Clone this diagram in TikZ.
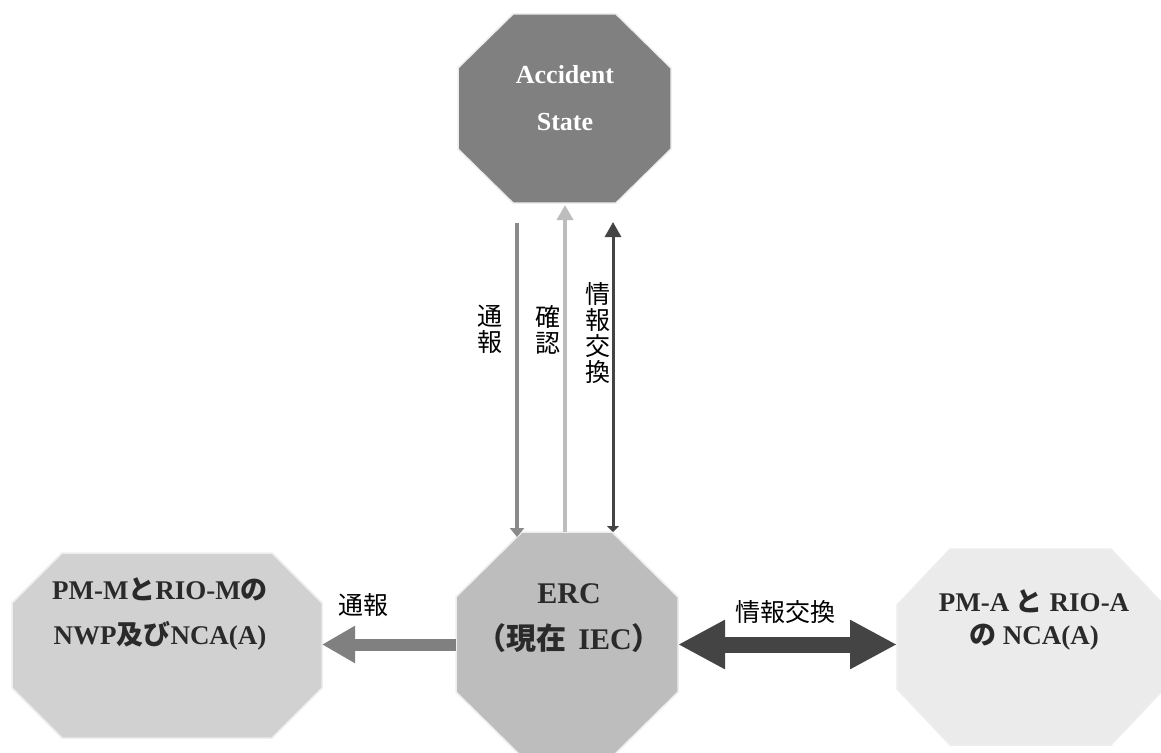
\documentclass[tikz,border=0pt]{standalone}
\usepackage{fontspec}
\setmainfont{Liberation Serif}
\newfontfamily\jp{Noto Sans CJK JP}
\usetikzlibrary{arrows.meta,calc}
\definecolor{cAcc}{HTML}{808080}
\definecolor{cErc}{HTML}{BDBDBD}
\definecolor{cLft}{HTML}{D1D1D1}
\definecolor{cRgt}{HTML}{EBEBEB}
\definecolor{cTxt}{HTML}{2A2A2A}
\definecolor{cTsu}{HTML}{8A8A8A}
\definecolor{cKak}{HTML}{BDBDBD}
\definecolor{cJoh}{HTML}{444444}
\definecolor{cEdge}{HTML}{EEEEEE}
\newcommand\myoct[8]{%
  \filldraw[octline, fill=#8] (#2+#6,#3) -- (#4-#6,#3) -- (#4,#3+#7) -- (#4,#5-#7)
    -- (#4-#6,#5) -- (#2+#6,#5) -- (#2,#5-#7) -- (#2,#3+#7) -- cycle;
  \node[obox, minimum width={#4-#2}, minimum height={#5-#3}] (#1) at ({(#2+#4)/2},{(#3+#5)/2}) {};
}
\tikzset{
  octline/.style={draw=cEdge, line width=1.5pt},
  obox/.style={draw=none, inner sep=0pt, outer sep=0pt, rectangle},
  ttl/.style={align=center, inner sep=0pt, text=cTxt},
  lab/.style={inner sep=0pt, font=\jp\fontsize{25}{26}\selectfont},
  vlab/.style={inner sep=0pt, align=center, font=\jp\fontsize{25}{26.2}\selectfont},
  arrTsu/.style={draw=cTsu, line width=4pt, -{Triangle[length=9pt,width=14pt]}},
  arrKak/.style={draw=cKak, line width=4pt, -{Triangle[length=15pt,width=16pt]}},
  arrJoh/.style={draw=cJoh, line width=3pt, {Triangle[length=6pt,width=12pt]}-{Triangle[length=15pt,width=16pt]}},
  blockL/.style={draw=cAcc, line width=12pt, -{Triangle[length=33pt,width=35pt]}},
  blockR/.style={draw=cJoh, line width=16pt, {Triangle[length=47pt,width=46pt]}-{Triangle[length=47pt,width=46pt]}},
}
\begin{document}
\begin{tikzpicture}[x=1pt,y=-1pt]
\useasboundingbox[fill=white] (0,0) rectangle (1161,752);
% octagons
\myoct{acc}{458}{14}{671}{203}{55}{54}{cAcc}
\myoct{erc}{456}{532}{678}{757}{66}{65}{cErc}
\myoct{lft}{12}{553}{322}{738}{50}{50}{cLft}
\myoct{rgt}{897}{549}{1164}{745}{53}{56}{cRgt}
% texts in octagons
\node[ttl, text=white, font=\bfseries\fontsize{26}{47}\selectfont] (accT) at (565,98) {Accident\\State};
\node[ttl, font=\bfseries\fontsize{30}{46}\selectfont] (ercT) at (569,618)
  {ERC\\{\jp\bfseries （現在}\hspace{12pt}IEC{\jp\bfseries ）}};
\node[ttl, font=\bfseries\fontsize{27}{45}\selectfont] (lftT) at (160,614)
  {PM-M{\jp\bfseries と}RIO-M{\jp\bfseries の}\\NWP{\jp\bfseries 及び}NCA(A)};
\node[ttl, font=\bfseries\fontsize{27}{33}\selectfont] (rgtT) at (1034,620)
  {PM-A {\jp\bfseries と} RIO-A\\{\jp\bfseries の} NCA(A)};
% vertical connectors
\coordinate (a1) at (517,223);
\coordinate (a2) at (565,205);
\coordinate (a3) at (613,222);
\draw[arrTsu, shorten >=-5pt] (a1) -- (a1 |- erc.north);
\draw[arrKak] (a2 |- erc.north) -- (a2);
\draw[arrJoh] (a3 |- erc.north) -- (a3);
% horizontal connectors
\draw[blockL] (erc.west) -- (erc.west -| lft.east);
\draw[blockR] (erc.east) -- (erc.east -| rgt.west);
% labels
\node[vlab] (v1) at (490,329) {通\\報};
\node[vlab] (v2) at (548,330) {確\\認};
\node[vlab] (v3) at (598,333) {情\\報\\交\\換};
\node[lab] (l1) at (363,605) {通報};
\node[lab] (l2) at (785,612) {情報交換};
\end{tikzpicture}
\end{document}
